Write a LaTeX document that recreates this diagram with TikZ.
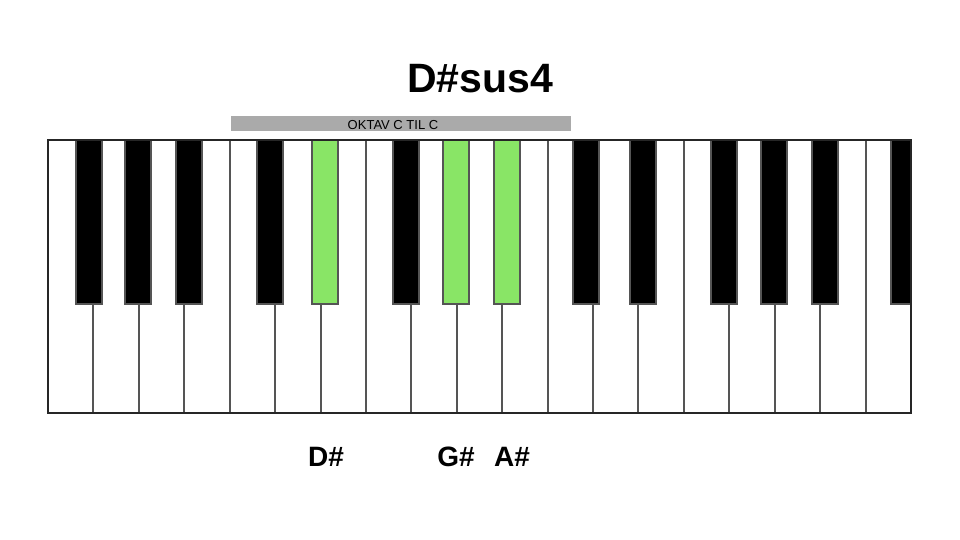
\documentclass[tikz,border=0pt]{standalone}
\usepackage{fontspec}
\setmainfont{Liberation Sans}
\usepackage{tikz}

\definecolor{keygreen}{RGB}{137,229,102}
\definecolor{keyline}{RGB}{85,85,85}
\definecolor{bargray}{RGB}{170,170,170}

\begin{document}
\begin{tikzpicture}[x=1pt,y=-1pt,
    whitekey/.style={draw=keyline,line width=2pt,fill=white},
    blackkey/.style={draw=keyline,line width=2pt,fill=black},
    greenkey/.style={draw=keyline,line width=2pt,fill=keygreen},
    notename/.style={anchor=base,font=\bfseries\fontsize{28}{28}\selectfont}]
    \useasboundingbox (0,0) rectangle (960,540);
    \node[anchor=base,font=\bfseries\fontsize{41}{41}\selectfont] (title) at (480,93) {D\#sus4};
    % octave bar
    \fill[bargray] (231,116) rectangle (571,131);
    \node[anchor=base,font=\fontsize{13}{13}\selectfont] (oktav) at (393,130) {OKTAV C TIL C};
    % white keys
    \foreach \i in {0,...,18}
        \draw[whitekey] (48+\i*45.42,140) rectangle ++(45.42,273);
    % black keys
    \foreach \x in {76,125,176,257,393,573,630,711,761,812}
        \draw[blackkey] (\x,140) rectangle ++(26,164);
    \draw[blackkey] (891,140) rectangle (911,304);
    % chord tones
    \foreach \x/\name in {312/dis,443/gis,494/ais}
        \draw[greenkey] (\x,140) rectangle ++(26,164) coordinate (\name);
    \draw[black!85,line width=2pt] (48,140) rectangle (911,413);
    \node[notename] (dislabel) at (326,466) {D\#};
    \node[notename] (gislabel) at (456,466) {G\#};
    \node[notename] (aislabel) at (512,466) {A\#};
\end{tikzpicture}
\end{document}
